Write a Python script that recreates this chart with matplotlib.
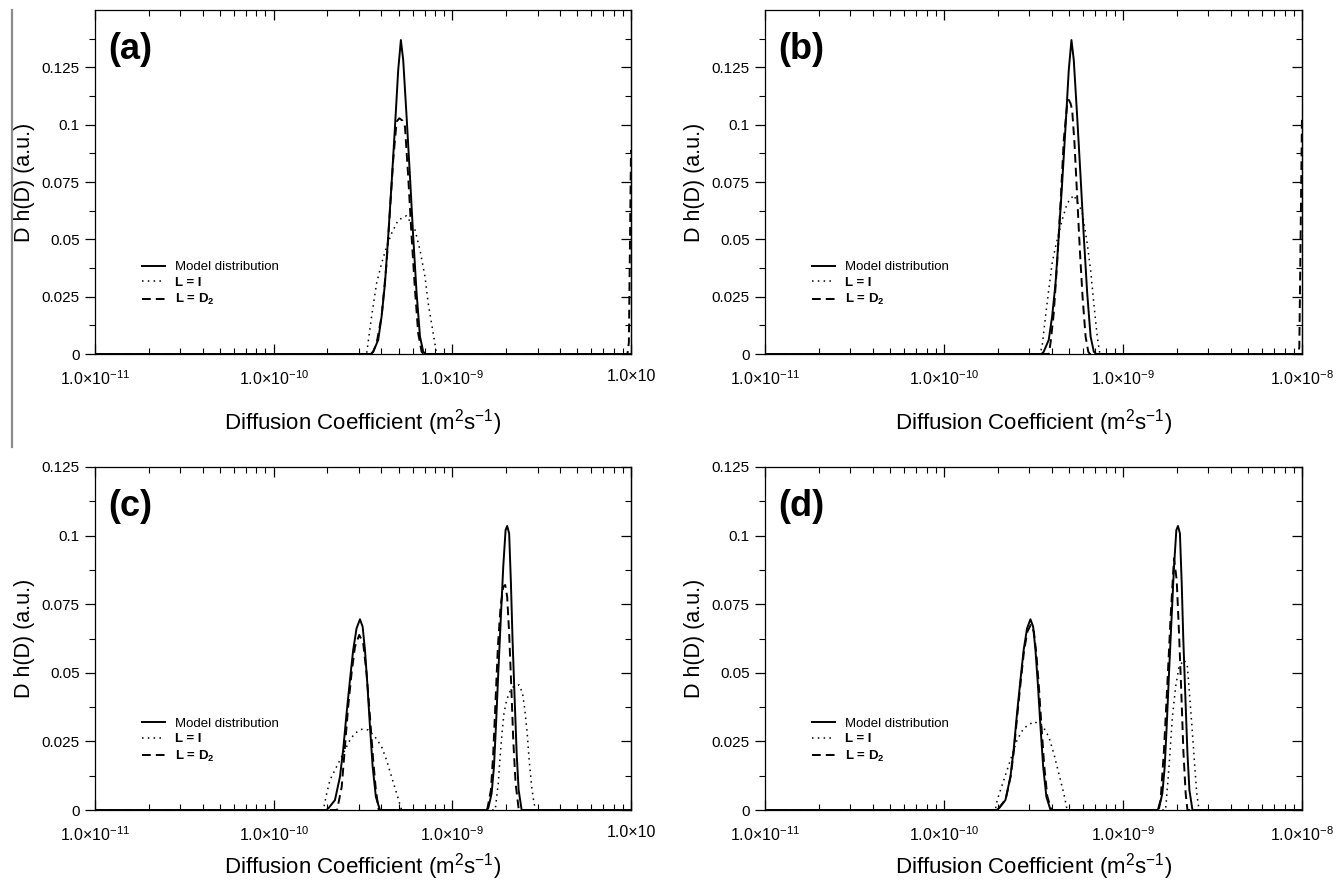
import numpy as np
import matplotlib
matplotlib.use("Agg")
import matplotlib.pyplot as plt
from matplotlib.lines import Line2D
from matplotlib.ticker import FixedLocator, NullFormatter

plt.rcParams['font.family'] = ['Liberation Sans', 'DejaVu Sans']
plt.rcParams['mathtext.fontset'] = 'custom'
plt.rcParams['mathtext.rm'] = 'Liberation Sans'
plt.rcParams['mathtext.it'] = 'Liberation Sans'
plt.rcParams['mathtext.bf'] = 'Liberation Sans:bold'
plt.rcParams['mathtext.default'] = 'regular'

# ---------------- data (log10 of D, and D h(D)) ----------------
# model distribution, panels (a) and (b)
logD_model_ab = [-11.0, -9.455, -9.443, -9.415, -9.396, -9.377, -9.359, -9.340, -9.321, -9.303, -9.288,
                 -9.275, -9.256, -9.237, -9.219, -9.200, -9.181, -9.163, -9.150, -8.0]
h_model_ab = [0, 0, 0.001, 0.0061, 0.0163, 0.0308, 0.0512, 0.0744, 0.0991, 0.1238, 0.1369,
              0.1282, 0.1035, 0.0773, 0.0512, 0.0265, 0.0076, 0.001, 0, 0]

# panel (a)
logD_a_I = [-11.0, -9.480, -9.452, -9.424, -9.396, -9.368, -9.340, -9.303, -9.256, -9.209,
            -9.181, -9.153, -9.135, -9.107, -9.088, -8.0]
h_a_I = [0, 0, 0.0163, 0.0308, 0.0395, 0.0468, 0.0526, 0.0584, 0.0603, 0.0541,
         0.0453, 0.0337, 0.0221, 0.0090, 0, 0]
logD_a_D2 = [-11.0, -9.455, -9.443, -9.424, -9.396, -9.368, -9.349, -9.331, -9.312, -9.297, -9.278,
             -9.265, -9.247, -9.228, -9.209, -9.191, -9.172, -9.160, -8.02, -8.012, -8.0]
h_a_D2 = [0, 0, 0.001, 0.0047, 0.0163, 0.0395, 0.0628, 0.0846, 0.1013, 0.1028, 0.1017,
          0.0991, 0.0773, 0.0512, 0.0279, 0.0090, 0.001, 0, 0, 0.005, 0.089]

# panel (b)
logD_b_I = [-11.0, -9.465, -9.452, -9.433, -9.415, -9.396, -9.377, -9.340, -9.312, -9.275,
            -9.228, -9.200, -9.181, -9.163, -9.144, -9.129, -8.0]
h_b_I = [0, 0.0, 0.0032, 0.0163, 0.0279, 0.0395, 0.0468, 0.0584, 0.0657, 0.0693,
         0.0620, 0.0483, 0.0366, 0.0221, 0.0076, 0, 0]
logD_b_D2 = [-11.0, -9.415, -9.405, -9.387, -9.368, -9.349, -9.331, -9.312, -9.303, -9.293,
             -9.284, -9.271, -9.256, -9.241, -9.226, -9.209, -9.194, -9.185, -8.02, -8.015, -8.008, -8.0]
h_b_D2 = [0, 0, 0.0047, 0.0177, 0.0395, 0.0657, 0.0933, 0.1086, 0.1108, 0.1093,
          0.1064, 0.0919, 0.0686, 0.0453, 0.0250, 0.0076, 0.001, 0, 0, 0.003, 0.05, 0.104]

# model distribution, panels (c) and (d)
logD_model_cd = [-11.0, -9.705, -9.694, -9.657, -9.629, -9.611, -9.592, -9.573, -9.555, -9.536, -9.517,
                 -9.502, -9.489, -9.476, -9.461, -9.446, -9.428, -9.405,
                 -8.810, -8.799, -8.780, -8.767, -8.756, -8.743, -8.730, -8.715, -8.702, -8.693,
                 -8.682, -8.672, -8.663, -8.651, -8.640, -8.629, -8.612, -8.0]
h_model_cd = [0, 0, 0.0006, 0.0036, 0.0121, 0.0219, 0.0352, 0.0474, 0.0583, 0.0662, 0.0695,
              0.0668, 0.0583, 0.0462, 0.0304, 0.0158, 0.0048, 0,
              0, 0.0006, 0.0061, 0.0158, 0.0304, 0.0498, 0.0680, 0.0887, 0.1020, 0.1035,
              0.1008, 0.0826, 0.0620, 0.0401, 0.0207, 0.0073, 0, 0]

# panel (c)
logD_c_I = [-11.0, -9.722, -9.703, -9.685, -9.657, -9.629, -9.601, -9.573, -9.545, -9.508,
            -9.471, -9.433, -9.396, -9.368, -9.340, -9.312, -9.284,
            -8.760, -8.743, -8.734, -8.722, -8.711, -8.696, -8.678, -8.659, -8.626,
            -8.607, -8.594, -8.581, -8.570, -8.556, -8.543, -8.532, -8.0]
h_c_I = [0, 0, 0.0061, 0.0109, 0.0146, 0.0182, 0.0219, 0.0255, 0.0280, 0.0294,
         0.0292, 0.0267, 0.0231, 0.0182, 0.0121, 0.0061, 0,
         0, 0.0097, 0.0182, 0.0280, 0.0352, 0.0401, 0.0431, 0.0449, 0.0456,
         0.0425, 0.0364, 0.0280, 0.0182, 0.0085, 0.0024, 0, 0]
logD_c_D2 = [-11.0, -9.645, -9.619, -9.601, -9.583, -9.564, -9.545, -9.521, -9.499, -9.480,
             -9.461, -9.443, -9.428, -9.412,
             -8.805, -8.784, -8.771, -8.758, -8.745, -8.730, -8.715, -8.704, -8.693,
             -8.682, -8.670, -8.659, -8.646, -8.628, -8.0]
h_c_D2 = [0, 0, 0.0085, 0.0231, 0.0377, 0.0498, 0.0595, 0.0638, 0.0608, 0.0498,
          0.0340, 0.0182, 0.0073, 0,
          0, 0.0073, 0.0207, 0.0401, 0.0595, 0.0741, 0.0814, 0.0820, 0.0777,
          0.0644, 0.0449, 0.0255, 0.0097, 0, 0]

# panel (d)
logD_d_I = [-11.0, -9.713, -9.703, -9.666, -9.629, -9.592, -9.555, -9.499, -9.452, -9.415,
            -9.387, -9.359, -9.331, -9.312,
            -8.762, -8.743, -8.724, -8.706, -8.687, -8.659, -8.640, -8.626, -8.612,
            -8.599, -8.588, -8.575, -8.0]
h_d_I = [0, 0, 0.0036, 0.0109, 0.0182, 0.0255, 0.0298, 0.0322, 0.0310, 0.0267,
         0.0207, 0.0134, 0.0061, 0,
         0, 0.0158, 0.0340, 0.0449, 0.0522, 0.0547, 0.0522, 0.0401, 0.0280,
         0.0158, 0.0061, 0, 0]
logD_d_D2 = [-11.0, -9.700, -9.655, -9.627, -9.609, -9.590, -9.571, -9.553, -9.534, -9.515,
             -9.498, -9.484, -9.470, -9.455, -9.440, -9.423, -9.400,
             -8.805, -8.790, -8.771, -8.752, -8.734, -8.715, -8.700, -8.687, -8.674,
             -8.663, -8.650, -8.640, -8.0]
h_d_D2 = [0, 0, 0.004, 0.0125, 0.022, 0.035, 0.047, 0.058, 0.065, 0.0675,
          0.065, 0.057, 0.045, 0.030, 0.016, 0.005, 0,
          0, 0.0036, 0.0219, 0.0462, 0.0704, 0.0917, 0.0838, 0.0644, 0.0425,
          0.0219, 0.0061, 0, 0]

panel_letters = ['(a)', '(b)', '(c)', '(d)']
legend_labels = ['Model distribution', 'L = I', 'L = D$_2$']
xtick_values = [1e-11, 1e-10, 1e-9, 1e-8]
xtick_labels_left = ['1.0\u00d710$^{-11}$', '1.0\u00d710$^{-10}$', '1.0\u00d710$^{-9}$', '1.0\u00d710']
xtick_labels_right = ['1.0\u00d710$^{-11}$', '1.0\u00d710$^{-10}$', '1.0\u00d710$^{-9}$', '1.0\u00d710$^{-8}$']
ytick_values = [0, 0.025, 0.05, 0.075, 0.1, 0.125]
ytick_labels = ['0', '0.025', '0.05', '0.075', '0.1', '0.125']
xlabel_text = 'Diffusion Coefficient (m$^2$s$^{-1}$)'
ylabel_text = 'D h(D) (a.u.)'

panels = [
    dict(model=(logD_model_ab, h_model_ab), I=(logD_a_I, h_a_I), D2=(logD_a_D2, h_a_D2),
         ytop=0.15, xlabels=xtick_labels_left, xlabelpad=14),
    dict(model=(logD_model_ab, h_model_ab), I=(logD_b_I, h_b_I), D2=(logD_b_D2, h_b_D2),
         ytop=0.15, xlabels=xtick_labels_right, xlabelpad=14),
    dict(model=(logD_model_cd, h_model_cd), I=(logD_c_I, h_c_I), D2=(logD_c_D2, h_c_D2),
         ytop=0.125, xlabels=xtick_labels_left, xlabelpad=5),
    dict(model=(logD_model_cd, h_model_cd), I=(logD_d_I, h_d_I), D2=(logD_d_D2, h_d_D2),
         ytop=0.125, xlabels=xtick_labels_right, xlabelpad=5),
]

W, H = 1343, 885
fig = plt.figure(figsize=(W / 100, H / 100), dpi=100)

# axes boxes in pixels: left, top, right, bottom
boxes = [(95, 10, 631, 354), (765, 10, 1302, 354), (95, 467, 631, 810), (765, 467, 1302, 810)]

lw_curve = 1.4
for i, (p, box) in enumerate(zip(panels, boxes)):
    l, t, r, b = box
    ax = fig.add_axes([l / W, 1 - b / H, (r - l) / W, (b - t) / H])
    ax.set_xscale('log')
    ax.set_xlim(1e-11, 1e-8)
    ax.set_ylim(0, p['ytop'])

    lx, ly = p['model']
    ax.plot(10 ** np.array(lx), ly, color='black', lw=lw_curve, ls='-', label=legend_labels[0])
    lx, ly = p['I']
    ax.plot(10 ** np.array(lx), ly, color='black', lw=1.1, ls=(0, (1, 2.8)), label=legend_labels[1])
    lx, ly = p['D2']
    ax.plot(10 ** np.array(lx), ly, color='black', lw=lw_curve, ls=(0, (4.5, 2.6)), label=legend_labels[2])

    for s in ax.spines.values():
        s.set_linewidth(0.9)

    # x ticks
    ax.set_xticks(xtick_values)
    ax.set_xticklabels(p['xlabels'])
    ax.xaxis.set_minor_locator(FixedLocator([m * 10.0 ** e for e in (-11, -10, -9) for m in range(2, 10)]))
    ax.xaxis.set_minor_formatter(NullFormatter())
    ax.tick_params(axis='x', which='both', direction='in', top=True, bottom=True)
    ax.tick_params(axis='x', which='major', length=7, width=0.9, pad=11, labelsize=11.5)
    ax.tick_params(axis='x', which='minor', length=4, width=0.8)

    # y ticks (left outward, right inward)
    ymin = [v for v in np.arange(0.0125, p['ytop'], 0.025)]
    ax.set_yticks(ytick_values)
    ax.set_yticklabels(ytick_labels)
    ax.yaxis.set_minor_locator(FixedLocator(ymin))
    ax.tick_params(axis='y', which='both', direction='out', left=True, right=False)
    ax.tick_params(axis='y', which='major', length=7, width=0.9, pad=4, labelsize=11)
    ax.tick_params(axis='y', which='minor', length=4, width=0.8)
    sec = ax.secondary_yaxis('right')
    sec.set_yticks(ytick_values)
    sec.yaxis.set_minor_locator(FixedLocator(ymin))
    sec.tick_params(axis='y', which='both', direction='in', labelright=False)
    sec.tick_params(axis='y', which='major', length=7, width=0.9)
    sec.tick_params(axis='y', which='minor', length=4, width=0.8)
    sec.spines['right'].set_linewidth(0.9)

    ax.set_xlabel(xlabel_text, fontsize=16, labelpad=p['xlabelpad'])
    ax.set_ylabel(ylabel_text, fontsize=15.5, labelpad=5)

    ax.text(0.024, 0.885, panel_letters[i], transform=ax.transAxes, fontsize=26,
            fontweight='bold', va='center', ha='left')

    leg = ax.legend(loc='upper left', bbox_to_anchor=(0.088, 0.27), frameon=False, fontsize=9.5,
                    handlelength=1.7, handletextpad=0.8, labelspacing=0.25,
                    borderpad=0, borderaxespad=0)
    for k, txt in enumerate(leg.get_texts()):
        if k > 0:
            txt.set_fontweight('bold')

# thin gray separator line at far left of the top row
fig.add_artist(Line2D([12 / W, 12 / W], [1 - 10 / H, 1 - 447 / H], color='#8c8c8c', lw=1.6))

fig.savefig('out.png', dpi=100)
